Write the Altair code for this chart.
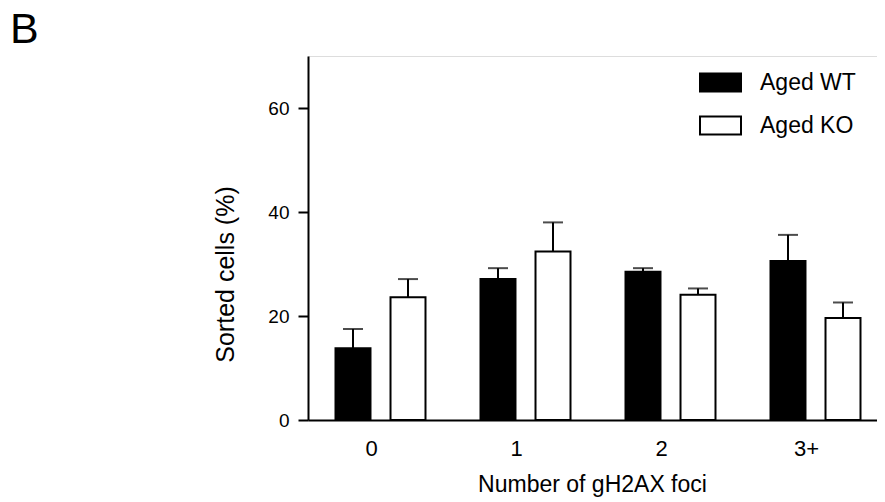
import altair as alt
import pandas as pd

groups = ["0", "1", "2", "3+"]
series = ["Aged WT", "Aged KO"]
wt_mean = [13.8, 27.1, 28.5, 30.6]
wt_err = [3.7, 2.1, 0.7, 5.0]
ko_mean = [23.6, 32.4, 24.1, 19.6]
ko_err = [3.5, 5.6, 1.2, 3.0]

rows = []
for i, g in enumerate(groups):
    rows.append({"group": g, "series": series[0], "mean": wt_mean[i], "top": wt_mean[i] + wt_err[i]})
    rows.append({"group": g, "series": series[1], "mean": ko_mean[i], "top": ko_mean[i] + ko_err[i]})
df = pd.DataFrame(rows)

FONT = "Liberation Sans"

x_enc = alt.X("group:N", sort=groups, scale=alt.Scale(range=[0, 580], paddingInner=0, paddingOuter=0),
              axis=alt.Axis(title="Number of gH2AX foci", labelAngle=0, ticks=False,
                            labelPadding=18, labelOffset=-9, labelFontSize=22, titleFontSize=23,
                            titlePadding=14, domainWidth=2, domainColor="black",
                            labelColor="black", titleColor="black", titleFontWeight="normal",
                            titleX=284, titleAlign="center", titleAnchor="middle",
                            labelFont=FONT, titleFont=FONT))
xo_enc = alt.XOffset("series:N", sort=series, scale=alt.Scale(paddingInner=0.364, paddingOuter=0.5))
y_scale = alt.Scale(domain=[0, 70], nice=False, zero=True)

bars = alt.Chart(df).mark_bar(stroke="black", strokeWidth=2, opacity=1).encode(
    x=x_enc,
    xOffset=xo_enc,
    y=alt.Y("mean:Q", scale=y_scale,
            axis=alt.Axis(title="Sorted cells (%)", values=[0, 20, 40, 60], grid=False,
                          tickSize=10, tickWidth=2, tickColor="black", domainWidth=2,
                          domainColor="black", labelPadding=9, labelFontSize=19,
                          titleFontSize=25, titleFontWeight="normal", labelColor="black",
                          titleColor="black", titleX=-70, titleY=218, titleAnchor="middle",
                          titleAlign="center",
                          labelFont=FONT, titleFont=FONT)),
    fill=alt.Fill("series:N", sort=series,
                  scale=alt.Scale(domain=series, range=["black", "white"]),
                  legend=alt.Legend(title=None, orient="none", legendX=391, legendY=5,
                                    symbolType="M-1,-0.44H1V0.44H-1Z", symbolSize=1681,
                                    symbolStrokeColor="black", symbolStrokeWidth=2,
                                    symbolOpacity=1, labelFontSize=23, labelOffset=18,
                                    rowPadding=8, padding=0, labelFont=FONT,
                                    labelColor="black")),
)

err = alt.Chart(df).mark_rule(color="black", strokeWidth=2).encode(
    x=alt.X("group:N", sort=groups),
    xOffset=alt.XOffset("series:N", sort=series),
    y=alt.Y("mean:Q"),
    y2="top:Q",
)

caps = alt.Chart(df).mark_tick(color="black", thickness=2, size=20).encode(
    x=alt.X("group:N", sort=groups),
    xOffset=alt.XOffset("series:N", sort=series),
    y=alt.Y("top:Q"),
)

chart = alt.layer(bars, err, caps).properties(
    width=569, height=364,
    title=alt.TitleParams(text="B", anchor="start", frame="group", dx=-298, dy=44, offset=14,
                          fontSize=43, fontWeight="normal", font=FONT, color="black",
                          baseline="alphabetic"),
    autosize=alt.AutoSizeParams(type="none"),
    padding={"left": 300, "top": 48, "right": 0, "bottom": 78},
).configure_view(stroke=None).configure(background="white")

chart.save("out.html", embed_options={"renderer": "svg", "actions": False})
